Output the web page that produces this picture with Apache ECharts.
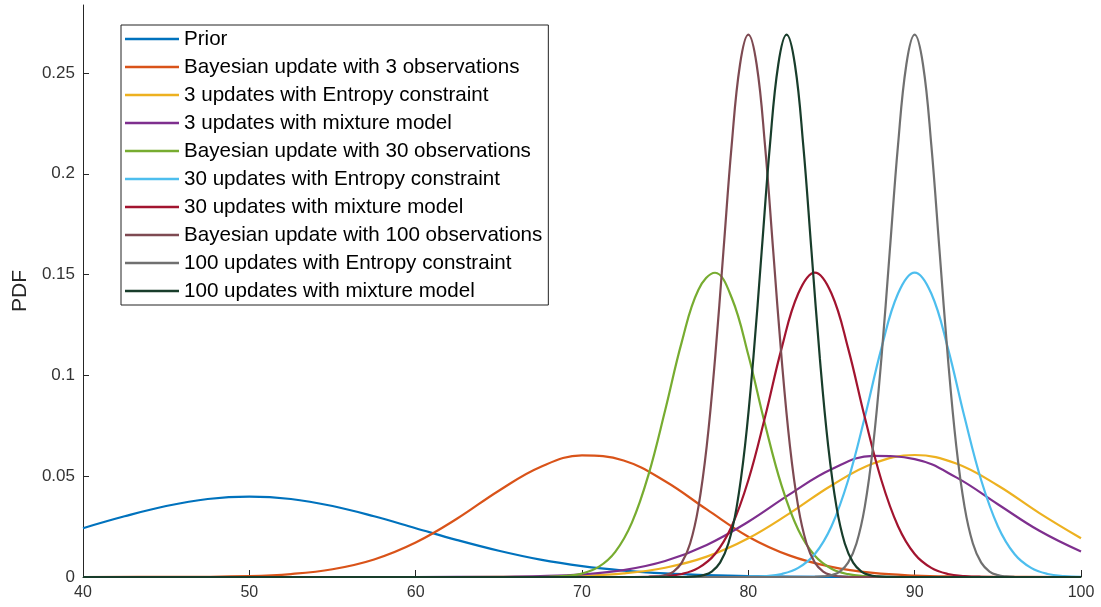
<!DOCTYPE html>
<html>
<head>
<meta charset="utf-8">
<script src="https://cdn.jsdelivr.net/npm/echarts@6/dist/echarts.min.js"></script>
<style>
  html, body { margin: 0; padding: 0; background: #fff; }
  #chart { width: 1101px; height: 607px; }
</style>
</head>
<body>
<div id="chart"></div>
<script>
// series names (legend order)
var names = [
  'Prior',
  'Bayesian update with 3 observations',
  '3 updates with Entropy constraint',
  '3 updates with mixture model',
  'Bayesian update with 30 observations',
  '30 updates with Entropy constraint',
  '30 updates with mixture model',
  'Bayesian update with 100 observations',
  '100 updates with Entropy constraint',
  '100 updates with mixture model'
];
var colors = ['#0072BD', '#D95319', '#EDB120', '#7E2F8E', '#77AC30', '#4DBEEE', '#A2142F', '#7E4A52', '#707070', '#183D2B'];

// y tick labels
var yTicks = [0, 0.05, 0.1, 0.15, 0.2, 0.25];

// values (x, pdf)
var priorX = [40, 42.5, 45, 47.5, 50, 52.5, 55, 57.5, 60, 62.5, 65, 67.5, 70, 72.5, 75, 77.5, 80, 85, 90, 100];
var priorY = [.0242, .0301, .0352, .0387, .0399, .0387, .0352, .0301, .0242, .0183, .0130, .0086, .0054, .0032, .00175, .00091, .00044, .0001, 0, 0];

var bayes3X = [40, 45, 50, 52.5, 55, 57.5, 60, 62.5, 65, 67.5, 70, 72.5, 75, 77.5, 80, 82.5, 85, 87.5, 90, 92.5, 95, 100];
var bayes3Y = [0, .00003, .00049, .00147, .00384, .0087, .0171, .0290, .0428, .0546, .0603, .0578, .0475, .0335, .0200, .0106, .0050, .0020, .00070, .00021, .00005, 0];

var entropy3X = [40, 60, 65, 67.5, 70, 72.5, 75, 77.5, 80, 82.5, 85, 87.5, 90, 92.5, 95, 97.5, 100];
var entropy3Y = [0, 0, .00005, .00018, .00061, .0018, .0046, .0101, .0192, .0317, .0454, .0563, .0605, .0563, .0454, .0317, .0192];

var mixture3X = [40, 60, 65, 67.5, 70, 72.5, 75, 77.5, 80, 82.5, 85, 87.5, 90, 92.5, 95, 97.5, 100];
var mixture3Y = [0, 0, .00012, .00042, .0013, .0034, .0079, .0159, .0274, .0411, .0534, .0601, .0585, .0494, .0361, .0229, .0126];

var bayes30X = [40, 66, 68, 69, 70, 71, 72, 73, 74, 75, 76, 77, 78, 79, 80, 81, 82, 83, 84, 85, 86, 87, 88, 90, 100];
var bayes30Y = [0, 0, .00013, .00052, .0017, .0050, .0125, .0270, .0508, .0827, .1166, .1425, .1509, .1385, .1101, .0759, .0453, .0234, .0105, .0041, .0014, .0004, .0001, 0, 0];

var entropy30X = [40, 78, 80, 81, 82, 83, 84, 85, 86, 87, 88, 89, 90, 91, 92, 93, 94, 95, 96, 97, 98, 99, 100];
var entropy30Y = [0, 0, .00012, .00046, .0015, .0045, .0114, .0252, .0480, .0792, .1134, .1406, .151, .1406, .1134, .0792, .0480, .0252, .0114, .0045, .0015, .00046, .00012];

var mixture30X = [40, 72, 74, 75, 76, 77, 78, 79, 80, 81, 82, 83, 84, 85, 86, 87, 88, 89, 90, 91, 92, 93, 94, 96, 100];
var mixture30Y = [0, 0, .00012, .00046, .0015, .0045, .0114, .0252, .0480, .0792, .1134, .1406, .151, .1406, .1134, .0792, .0480, .0252, .0114, .0045, .0015, .00046, .00012, 0, 0];

var bayes100X = [40, 72, 74, 74.5, 75, 75.5, 76, 76.5, 77, 77.5, 78, 78.5, 79, 79.5, 80, 80.5, 81, 81.5, 82, 82.5, 83, 83.5, 84, 84.5, 85, 85.5, 86, 88, 100];
var bayes100Y = [0, 0, .00008, .00028, .00091, .0027, .0071, .0166, .0348, .0650, .1084, .1613, .2143, .2542, .269, .2542, .2143, .1613, .1084, .0650, .0348, .0166, .0071, .0027, .00091, .00028, .00008, 0, 0];

var entropy100X = [40, 82, 84, 84.5, 85, 85.5, 86, 86.5, 87, 87.5, 88, 88.5, 89, 89.5, 90, 90.5, 91, 91.5, 92, 92.5, 93, 93.5, 94, 94.5, 95, 95.5, 96, 98, 100];
var entropy100Y = [0, 0, .00008, .00028, .00091, .0027, .0071, .0166, .0348, .0650, .1084, .1613, .2143, .2542, .269, .2542, .2143, .1613, .1084, .0650, .0348, .0166, .0071, .0027, .00091, .00028, .00008, 0, 0];

var mixture100X = [40, 74, 76.3, 76.8, 77.3, 77.8, 78.3, 78.8, 79.3, 79.8, 80.3, 80.8, 81.3, 81.8, 82.3, 82.8, 83.3, 83.8, 84.3, 84.8, 85.3, 85.8, 86.3, 86.8, 87.3, 87.8, 88.3, 90, 100];
var mixture100Y = [0, 0, .00008, .00028, .00091, .0027, .0071, .0166, .0348, .0650, .1084, .1613, .2143, .2542, .269, .2542, .2143, .1613, .1084, .0650, .0348, .0166, .0071, .0027, .00091, .00028, .00008, 0, 0];

var xs = [priorX, bayes3X, entropy3X, mixture3X, bayes30X, entropy30X, mixture30X, bayes100X, entropy100X, mixture100X];
var ys = [priorY, bayes3Y, entropy3Y, mixture3Y, bayes30Y, entropy30Y, mixture30Y, bayes100Y, entropy100Y, mixture100Y];

function pairs(x, y) {
  return x.map(function (v, i) { return [v, y[i]]; });
}

var series = names.map(function (n, i) {
  return {
    name: n,
    type: 'line',
    data: pairs(xs[i], ys[i]),
    smooth: 0.4,
    showSymbol: false,
    symbol: 'none',
    lineStyle: { color: colors[i], width: 2.2 },
    itemStyle: { color: colors[i] }
  };
});

var chart = echarts.init(document.getElementById('chart'));
var option = {
  animation: false,
  backgroundColor: '#fff',
  grid: { left: 83, right: 20, top: 5, bottom: 30 },
  legend: {
    orient: 'vertical',
    left: 121,
    top: 25,
    icon: 'rect',
    itemWidth: 54,
    itemHeight: 2.6,
    itemGap: 0,
    padding: [0, 6, 0, 4],
    borderColor: '#222',
    borderWidth: 1,
    backgroundColor: '#fff',
    textStyle: { fontFamily: 'Liberation Sans, Arial, sans-serif', fontSize: 20.6, color: '#000', lineHeight: 28 },
    data: names
  },
  xAxis: {
    type: 'value',
    min: 40,
    max: 100,
    interval: 10,
    axisLine: { show: true, onZero: false, lineStyle: { color: '#262626', width: 1 } },
    axisTick: { show: true, inside: true, length: 7, lineStyle: { color: '#262626' } },
    axisLabel: { fontFamily: 'Liberation Sans, Arial, sans-serif', fontSize: 16, color: '#333', margin: 8 },
    splitLine: { show: false }
  },
  yAxis: {
    type: 'value',
    min: 0,
    max: 0.2837,
    interval: 0.05,
    name: 'PDF',
    nameLocation: 'middle',
    nameGap: 51,
    nameTextStyle: { fontFamily: 'Liberation Sans, Arial, sans-serif', fontSize: 21, color: '#262626' },
    axisLine: { show: true, onZero: false, lineStyle: { color: '#262626', width: 1 } },
    axisTick: { show: true, inside: true, length: 6, customValues: yTicks, lineStyle: { color: '#262626' } },
    axisLabel: { fontFamily: 'Liberation Sans, Arial, sans-serif', fontSize: 17, color: '#333', margin: 8, customValues: yTicks },
    splitLine: { show: false }
  },
  series: series
};
chart.setOption(option);
</script>
</body>
</html>
